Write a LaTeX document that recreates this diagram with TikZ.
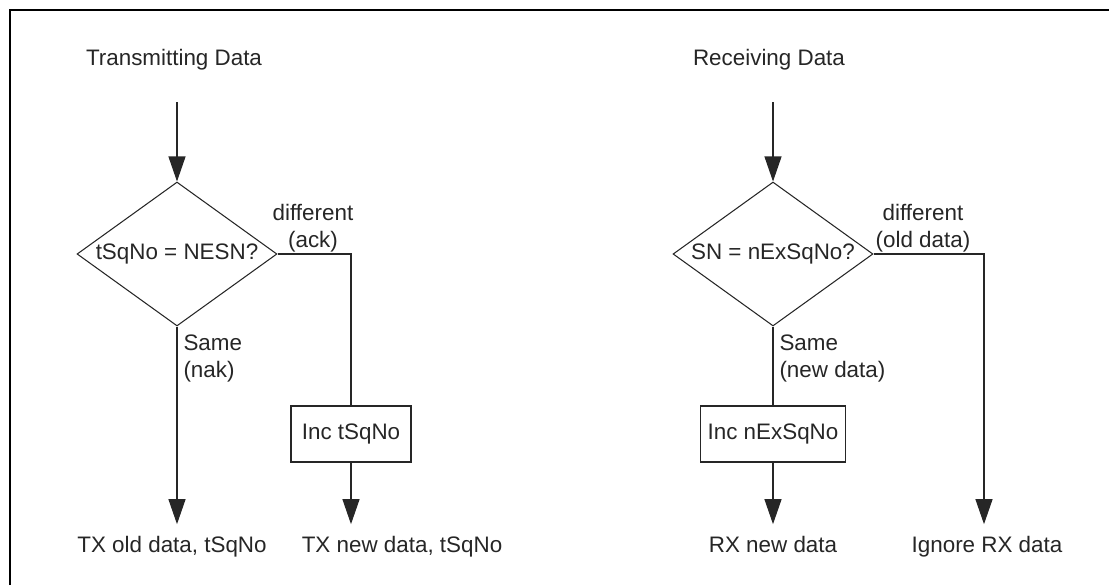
\documentclass[tikz,border=0pt]{standalone}
\usepackage{fontspec}
\setmainfont{Liberation Sans}
\usetikzlibrary{arrows.meta,shapes.geometric}

\begin{document}
\begin{tikzpicture}[x=0.02cm,y=-0.02cm,line width=0.6pt,color=black!85,
  >={Triangle[length=5mm,width=3.4mm]},
  font=\fontsize{12.75pt}{15.4pt}\selectfont,
  decision/.style={diamond,draw,aspect=1.5,inner sep=0pt,minimum width=4cm,minimum height=2.88cm},
  procbox/.style={rectangle,draw,inner xsep=0.15cm,minimum width=2.4cm,minimum height=1.12cm},
  result/.style={anchor=base,inner sep=0pt,outer sep=6.6pt},
  branch/.style={inner sep=0pt,align=center,anchor=north}]
  \useasboundingbox (0,0) rectangle (1109,585);
  % marco
  \draw[line width=1.5pt,black] (10,585)--(10,10)--(1109,10);
  % lado de transmision
  \node[anchor=base] (txtitle) at (174,65) {Transmitting Data};
  \coordinate (txin) at (177,102);
  \node[decision] (txtest) at (177,254) {tSqNo = NESN?};
  \node[procbox] (txinc) at (351,434) {Inc tSqNo};
  \node[result] (txold) at (172,552) {TX old data, tSqNo};
  \node[result] (txnew) at (402,552) {TX new data, tSqNo};
  \node[branch] (txdiff) at (313,204) {different\\(ack)};
  \node[branch,anchor=north west,align=left] (txsame) at (183,334) {Same\\(nak)};
  \draw[->] (txin)--(txtest.north);
  \draw (txtest.east) -| (txinc.north);
  \draw[->] (txtest.south)--(txtest.south |- txold.north);
  \draw[->] (txinc.south)--(txinc.south |- txnew.north);
  % lado de recepcion
  \node[anchor=base] (rxtitle) at (769,65) {Receiving Data};
  \coordinate (rxin) at (773,102);
  \node[decision] (rxtest) at (773,254) {SN = nExSqNo?};
  \node[procbox] (rxinc) at (773,434) {Inc nExSqNo};
  \node[result] (rxnew) at (773,552) {RX new data};
  \node[result] (rxign) at (987,552) {Ignore RX data};
  \coordinate (rxturn) at (984,254);
  \node[branch] (rxdiff) at (923,204) {different\\(old data)};
  \node[branch,anchor=north west,align=left] (rxsame) at (779,334) {Same\\(new data)};
  \draw[->] (rxin)--(rxtest.north);
  \draw (rxtest.south)--(rxinc.north);
  \draw[->] (rxinc.south)--(rxnew.north);
  \draw[->] (rxtest.east)--(rxturn)--(rxturn |- rxign.north);
\end{tikzpicture}
\end{document}
